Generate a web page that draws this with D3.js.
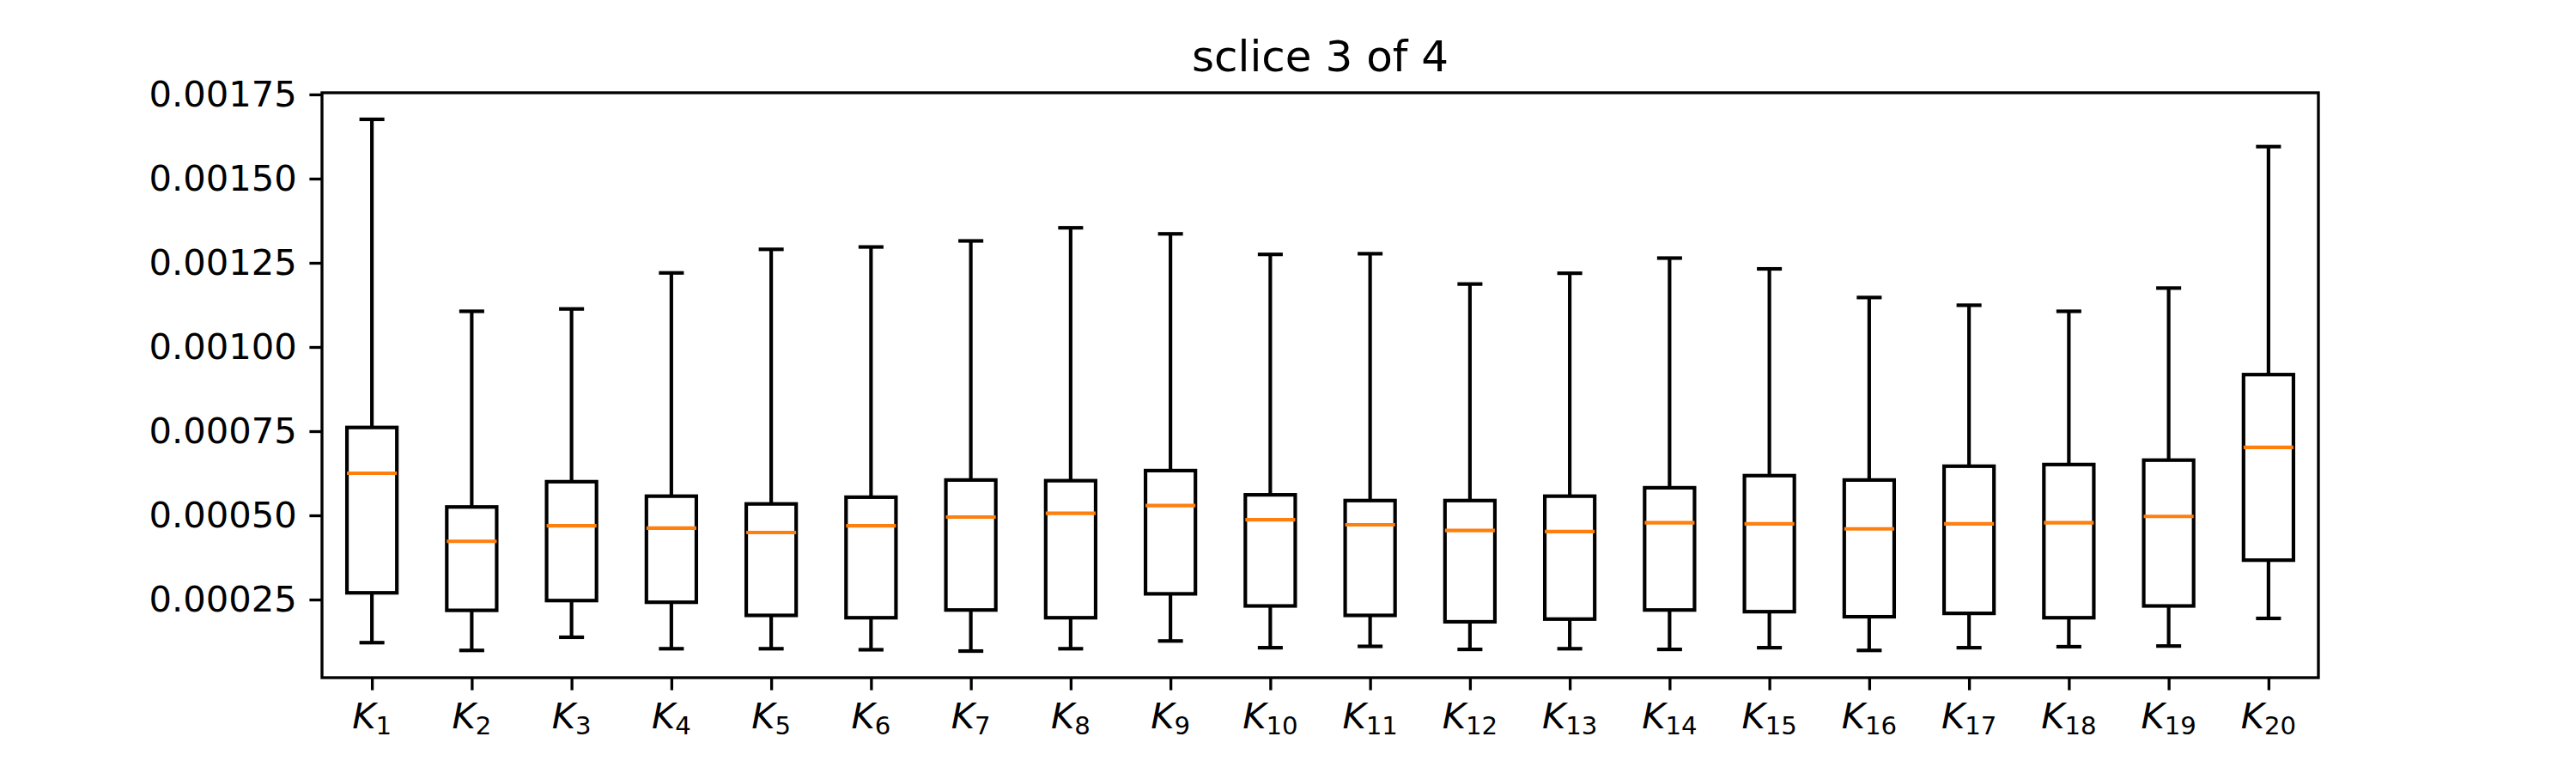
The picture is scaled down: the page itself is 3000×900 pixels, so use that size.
<!DOCTYPE html>
<html><head><meta charset="utf-8">
<script src="https://cdn.jsdelivr.net/npm/d3@7"></script>
<style>body{margin:0;background:#fff}svg{display:block}</style>
</head><body>
<script>
const categories = ["1","2","3","4","5","6","7","8","9","10","11","12","13","14","15","16","17","18","19","20"];
const whiskerHigh = [0.001676,0.001106,0.001113,0.00122,0.00129,0.001297,0.001315,0.001354,0.001336,0.001275,0.001277,0.001187,0.001219,0.001264,0.001232,0.001147,0.001124,0.001106,0.001175,0.001595];
const q3 = [0.000761,0.000525,0.0006,0.000557,0.000534,0.000554,0.000605,0.000603,0.000633,0.000561,0.000544,0.000544,0.000557,0.000582,0.000618,0.000605,0.000646,0.000651,0.000664,0.000918];
const median = [0.000625,0.000423,0.000469,0.000462,0.000449,0.000469,0.000495,0.000506,0.000529,0.000487,0.000472,0.000455,0.000452,0.000478,0.000475,0.00046,0.000475,0.000478,0.000497,0.000702];
const q1 = [0.00027,0.000218,0.000247,0.000242,0.000203,0.000196,0.000219,0.000196,0.000267,0.000231,0.000203,0.000184,0.000192,0.000219,0.000214,0.000199,0.000209,0.000196,0.000231,0.000367];
const whiskerLow = [0.000122,0.000099,0.000138,0.000104,0.000104,0.000101,0.000097,0.000104,0.000127,0.000107,0.000111,0.000102,0.000104,0.000102,0.000107,0.000099,0.000107,0.00011,0.000112,0.000194];
const yTicks = [0.00025,0.0005,0.00075,0.001,0.00125,0.0015,0.00175];
const title = "sclice 3 of 4";

const W = 3000, H = 900;
const L = 375, R = 2700, T = 108, B = 789;
const font = "DejaVu Sans";
const fs = 41.7;
const lw = 4.17;
const sw = 3.33;
const tl = 14.6;

const svg = d3.select("body").append("svg").attr("width", W).attr("height", H);

const x = d3.scaleLinear().domain([0.5, categories.length + 0.5]).range([L, R]);
const yMin = d3.min(whiskerLow), yMax = d3.max(whiskerHigh);
const pad = (yMax - yMin) * 0.05;
const y = d3.scaleLinear().domain([yMin - pad, yMax + pad]).range([B, T]);

const data = categories.map((c, i) => ({
  c, pos: i + 1, hi: whiskerHigh[i], q3: q3[i], med: median[i], q1: q1[i], lo: whiskerLow[i]
}));

const boxW = 0.5, capW = 0.25;
const g = svg.append("g");
const box = g.selectAll("g.box").data(data).join("g").attr("class", "box");
box.append("line").attr("x1", d => x(d.pos)).attr("x2", d => x(d.pos))
  .attr("y1", d => y(d.q3)).attr("y2", d => y(d.hi)).attr("stroke", "#000").attr("stroke-width", lw);
box.append("line").attr("x1", d => x(d.pos)).attr("x2", d => x(d.pos))
  .attr("y1", d => y(d.q1)).attr("y2", d => y(d.lo)).attr("stroke", "#000").attr("stroke-width", lw);
box.append("line").attr("x1", d => x(d.pos - capW / 2)).attr("x2", d => x(d.pos + capW / 2))
  .attr("y1", d => y(d.hi)).attr("y2", d => y(d.hi)).attr("stroke", "#000").attr("stroke-width", lw);
box.append("line").attr("x1", d => x(d.pos - capW / 2)).attr("x2", d => x(d.pos + capW / 2))
  .attr("y1", d => y(d.lo)).attr("y2", d => y(d.lo)).attr("stroke", "#000").attr("stroke-width", lw);
box.append("rect").attr("x", d => x(d.pos - boxW / 2)).attr("width", d => x(d.pos + boxW / 2) - x(d.pos - boxW / 2))
  .attr("y", d => y(d.q3)).attr("height", d => y(d.q1) - y(d.q3))
  .attr("fill", "none").attr("stroke", "#000").attr("stroke-width", lw);
box.append("line").attr("x1", d => x(d.pos - boxW / 2)).attr("x2", d => x(d.pos + boxW / 2))
  .attr("y1", d => y(d.med)).attr("y2", d => y(d.med)).attr("stroke", "#ff7f0e").attr("stroke-width", lw);

// frame
svg.append("rect").attr("x", L).attr("y", T).attr("width", R - L).attr("height", B - T)
  .attr("fill", "none").attr("stroke", "#000").attr("stroke-width", sw);

// y axis
const yAxis = d3.axisLeft(y).tickValues(yTicks).tickFormat(d3.format(".5f")).tickSize(tl).tickPadding(tl);
const ya = svg.append("g").attr("transform", `translate(${L},0)`).call(yAxis);
ya.select(".domain").remove();
ya.selectAll(".tick line").attr("stroke", "#000").attr("stroke-width", sw);
ya.selectAll(".tick text").attr("font-family", font).attr("font-size", fs).attr("fill", "#000");

// x axis
const xAxis = d3.axisBottom(x).tickValues(data.map(d => d.pos)).tickFormat("").tickSize(tl);
const xa = svg.append("g").attr("transform", `translate(0,${B})`).call(xAxis);
xa.select(".domain").remove();
xa.selectAll(".tick line").attr("stroke", "#000").attr("stroke-width", sw);
const lab = svg.append("g").selectAll("text").data(data).join("text")
  .attr("x", d => x(d.pos)).attr("y", B + 59)
  .attr("text-anchor", "middle").attr("font-family", font).attr("font-size", fs).attr("fill", "#000");
lab.append("tspan").attr("font-style", "italic").text("K");
lab.append("tspan").attr("font-size", fs * 0.7).attr("dy", 7).text(d => d.c);

// title
svg.append("text").attr("x", (L + R) / 2).attr("y", T - 25)
  .attr("text-anchor", "middle").attr("font-family", font).attr("font-size", 50).attr("fill", "#000")
  .text(title);
</script>
</body></html>
